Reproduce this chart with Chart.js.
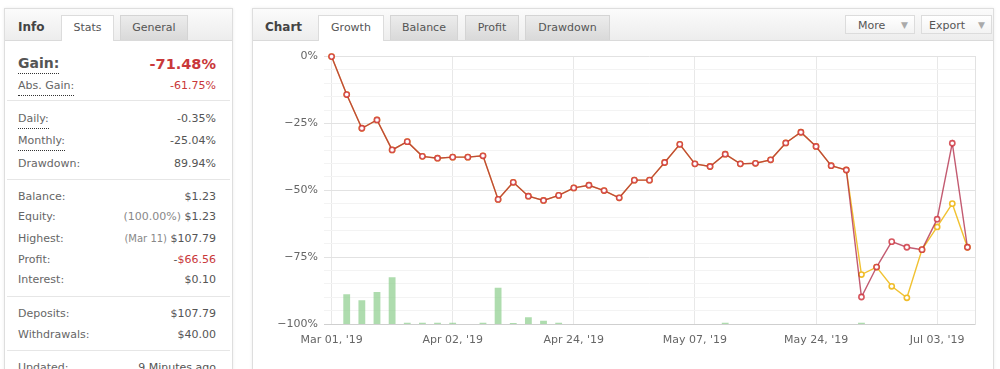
<!DOCTYPE html>
<html>
<head>
<meta charset="utf-8">
<script src="https://cdn.jsdelivr.net/npm/chart.js@4.4.1/dist/chart.umd.min.js"></script>
<style>
  html,body{margin:0;padding:0;background:#fff;width:1000px;height:369px;overflow:hidden;font-family:"DejaVu Sans",Verdana,sans-serif;font-size:11px;color:#555;}
  .panel{position:absolute;border:1px solid #dedede;background:#fff;box-shadow:0 0 3px rgba(0,0,0,0.08);}
  .hdr{position:absolute;left:0;right:0;top:0;height:31px;background:linear-gradient(#fbfbfb,#ededed);border-bottom:1px solid #dadada;}
  .ttl{position:absolute;top:11px;font-weight:bold;font-size:12px;color:#444;}
  .tab{position:absolute;top:6px;height:25px;line-height:24px;text-align:center;font-size:11px;color:#555;border:1px solid #d4d4d4;border-bottom:none;background:linear-gradient(#ececec,#d9d9d9);box-sizing:border-box;}
  .tab.on{background:#fff;height:26px;border-color:#dcdcdc;color:#555;}
  .row{position:absolute;left:13px;width:198px;height:16px;line-height:16px;}
  .row .l{position:absolute;left:0;top:0;color:#666;}
  .row .v{position:absolute;right:0;top:0;color:#555;}
  .dot{border-bottom:1px dotted #333;padding-bottom:1px;}
  .sep{position:absolute;left:2px;right:2px;height:1px;background:#e6e6e6;}
  .row .red, .red{color:#c9383a;}
  .sm{color:#888;font-size:10px;}
  .btn{position:absolute;top:6px;height:19px;line-height:19px;border:1px solid #dcdcdc;background:linear-gradient(#ffffff,#f3f3f3);font-size:11px;color:#555;box-sizing:border-box;}
  .btn .a{position:absolute;right:6px;top:0;color:#aaa;font-size:9px;}
  #wrap{position:absolute;left:262px;top:44px;width:728px;height:325px;}
</style>
</head>
<body>
<div class="panel" style="left:4px;top:8px;width:227px;height:400px;">
  <div class="hdr"></div>
  <div class="ttl" style="left:13px;">Info</div>
  <div class="tab on" style="left:56px;width:53px;">Stats</div>
  <div class="tab" style="left:115px;width:68px;">General</div>

  <div class="row" style="top:45px;height:20px;line-height:20px;"><span class="l dot" style="font-weight:bold;font-size:14px;color:#555;line-height:18px;">Gain:</span><span class="v red" style="font-weight:bold;font-size:14.5px;">-71.48%</span></div>
  <div class="row" style="top:69px;"><span class="l dot">Abs. Gain:</span><span class="v red">-61.75%</span></div>
  <div class="sep" style="top:91px;"></div>
  <div class="row" style="top:102px;"><span class="l dot">Daily:</span><span class="v">-0.35%</span></div>
  <div class="row" style="top:124px;"><span class="l dot">Monthly:</span><span class="v">-25.04%</span></div>
  <div class="row" style="top:147px;"><span class="l">Drawdown:</span><span class="v">89.94%</span></div>
  <div class="sep" style="top:170px;"></div>
  <div class="row" style="top:180px;"><span class="l">Balance:</span><span class="v">$1.23</span></div>
  <div class="row" style="top:200px;"><span class="l">Equity:</span><span class="v"><span class="sm" style="font-size:11px;">(100.00%)</span> $1.23</span></div>
  <div class="row" style="top:222px;"><span class="l">Highest:</span><span class="v"><span class="sm">(Mar 11)</span> $107.79</span></div>
  <div class="row" style="top:243px;"><span class="l">Profit:</span><span class="v">-<span class="red">$66.56</span></span></div>
  <div class="row" style="top:263px;"><span class="l">Interest:</span><span class="v">$0.10</span></div>
  <div class="sep" style="top:287px;"></div>
  <div class="row" style="top:297px;"><span class="l">Deposits:</span><span class="v">$107.79</span></div>
  <div class="row" style="top:318px;"><span class="l">Withdrawals:</span><span class="v">$40.00</span></div>
  <div class="sep" style="top:341px;"></div>
  <div class="row" style="top:351px;"><span class="l">Updated:</span><span class="v">9 Minutes ago</span></div>
</div>

<div class="panel" style="left:252px;top:8px;width:740px;height:400px;">
  <div class="hdr"></div>
  <div class="ttl" style="left:12px;">Chart</div>
  <div class="tab on" style="left:65px;width:66px;">Growth</div>
  <div class="tab" style="left:137px;width:68px;">Balance</div>
  <div class="tab" style="left:212px;width:54px;">Profit</div>
  <div class="tab" style="left:272px;width:85px;">Drawdown</div>
  <div class="btn" style="left:592px;width:70px;"><span style="position:absolute;left:12px;">More</span><span class="a">&#9660;</span></div>
  <div class="btn" style="left:668px;width:71px;"><span style="position:absolute;left:7px;">Export</span><span class="a">&#9660;</span></div>
</div>

<div id="wrap"><canvas id="c"></canvas></div>

<script>
// ---- data ----
const tickLabels = ["Mar 01, '19", "Apr 02, '19", "Apr 24, '19", "May 07, '19", "May 24, '19", "Jul 03, '19"];
const categories = [
  "Mar 01, '19","","","","","","","",
  "Apr 02, '19","","","","","","","",
  "Apr 24, '19","","","","","","","",
  "May 07, '19","","","","","","","",
  "May 24, '19","","","","","","","",
  "Jul 03, '19","",""
];
const growth = [
  0, -14.2, -26.8, -23.7, -34.9, -31.8, -37.3, -38.0, -37.6, -37.6, -37.1, -53.4,
  -47.0, -52.2, -53.8, -51.9, -49.1, -48.1, -50.1, -52.8, -46.2, -46.2, -39.6, -32.8,
  -40.1, -41.1, -36.5, -40.1, -39.9, -38.6, -32.3, -28.3, -33.6, -40.8, -42.4,
  -89.9, -78.7, -69.2, -71.3, -72.2, -60.8, -32.4, -71.3
];
const equity = [
  0, -14.2, -26.8, -23.7, -34.9, -31.8, -37.3, -38.0, -37.6, -37.6, -37.1, -53.4,
  -47.0, -52.2, -53.8, -51.9, -49.1, -48.1, -50.1, -52.8, -46.2, -46.2, -39.6, -32.8,
  -40.1, -41.1, -36.5, -40.1, -39.9, -38.6, -32.3, -28.3, -33.6, -40.8, -42.4,
  -81.5, -78.7, -85.9, -90.2, -72.2, -63.7, -55.0, -71.3
];
const volume = [
  0, 11.1, 8.9, 12.0, 17.5, 0.5, 0.5, 0.5, 0.5, 0, 0.5, 13.6,
  0.4, 2.5, 1.2, 0.5, 0, 0, 0, 0, 0, 0, 0, 0,
  0, 0, 0.5, 0, 0, 0, 0, 0, 0, 0, 0,
  0.5, 0, 0, 0, 0, 0, 0, 0
];
const yMin = -100, yMax = 0, yStep = 5, yLabelEvery = 25;

const FONT = {family: "'DejaVu Sans', Verdana, sans-serif", size: 11};

new Chart(document.getElementById('c'), {
  type: 'bar',
  data: {
    labels: categories,
    datasets: [
      {
        type: 'line', label: 'Growth', data: growth, order: 1,
        borderColor: 'rgba(172,28,58,0.72)', borderWidth: 1.4,
        pointRadius: 2.6, pointBorderWidth: 1.6,
        pointBorderColor: 'rgba(205,45,55,0.8)', pointBackgroundColor: '#fff',
        tension: 0, clip: false, yAxisID: 'y'
      },
      {
        type: 'line', label: 'Equity', data: equity, order: 2,
        borderColor: '#f1c232', borderWidth: 1.4,
        pointRadius: 2.6, pointBorderWidth: 1.6,
        pointBorderColor: '#f0bd2a', pointBackgroundColor: '#fff',
        tension: 0, clip: false, yAxisID: 'y'
      },
      {
        type: 'bar', label: 'Volume', data: volume, order: 3,
        backgroundColor: 'rgba(140,205,140,0.7)',
        barPercentage: 0.45, categoryPercentage: 1.0, yAxisID: 'y2'
      }
    ]
  },
  options: {
    responsive: true, maintainAspectRatio: false, animation: false,
    layout: {padding: {top: 10, right: 15, left: 0, bottom: 0}},
    plugins: {legend: {display: false}, tooltip: {enabled: false}},
    scales: {
      x: {
        offset: true,
        grid: {
          offset: false, drawTicks: false,
          color: (ctx) => (categories[ctx.index] ? '#e8e8e8' : 'rgba(0,0,0,0)')
        },
        border: {display: true, color: '#cfcfcf'},
        ticks: {
          autoSkip: false, maxRotation: 0, padding: 10,
          color: '#666', font: FONT,
          callback: (v, i) => categories[i]
        },
        afterFit: (s) => { s.height = 45; }
      },
      y: {
        min: yMin, max: yMax,
        grid: {
          drawTicks: false,
          color: (ctx) => (ctx.tick && ctx.tick.value % yLabelEvery === 0 ? '#e2e2e2' : '#f3f3f3')
        },
        border: {display: false},
        ticks: {
          stepSize: yStep, autoSkip: false, maxTicksLimit: 50, padding: 6,
          color: '#666', font: FONT,
          callback: (v) => (v % yLabelEvery === 0 ? (v < 0 ? '\u2212' + Math.abs(v) : v) + '%' : '')
        },
        afterFit: (s) => { s.width = 62; }
      },
      y2: {
        position: 'right', min: 0, max: 100,
        grid: {display: false, drawOnChartArea: false},
        border: {display: true, color: '#e2e2e2'},
        ticks: {display: false},
        afterFit: (s) => { s.width = 0; }
      }
    }
  }
});
</script>
</body>
</html>
